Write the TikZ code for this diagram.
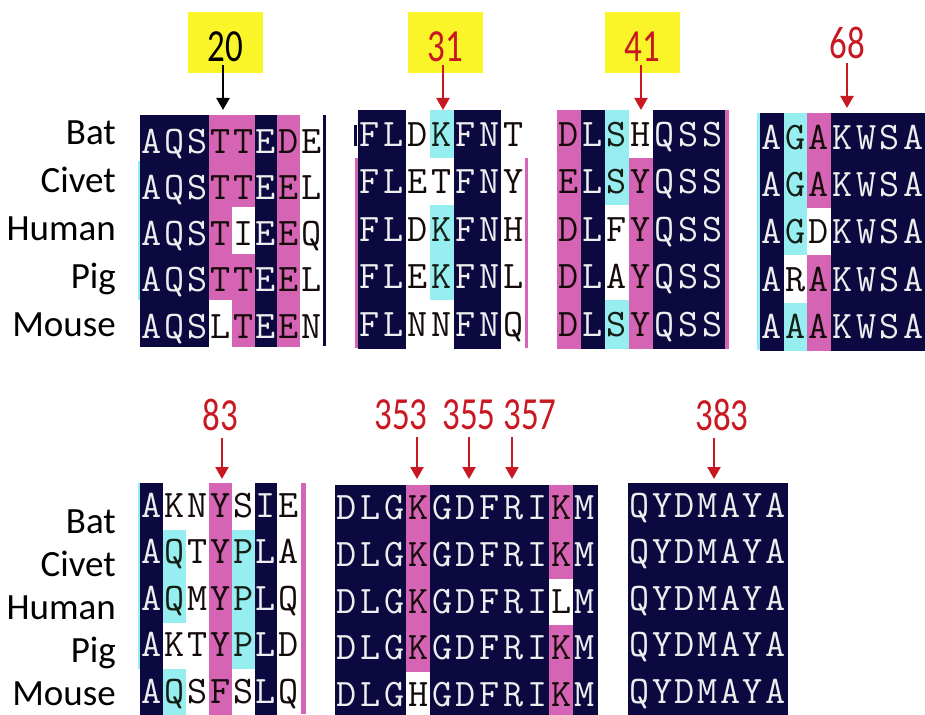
\documentclass[tikz,border=0pt]{standalone}
\usepackage{fontspec}
\setmainfont{Carlito}
\newcommand\seqfont{\ttfamily\addfontfeatures{FakeBold=0.7,FakeStretch=1.05}}
\newfontfamily\numfont[FakeStretch=0.76]{Carlito}
\usetikzlibrary{arrows.meta}
\definecolor{bgn}{RGB}{12,8,64}
\definecolor{bgp}{RGB}{214,100,180}
\definecolor{bgc}{RGB}{150,238,240}
\definecolor{bgw}{RGB}{255,255,255}
\definecolor{fgn}{RGB}{238,238,238}
\definecolor{fgp}{RGB}{20,10,10}
\definecolor{fgc}{RGB}{20,30,20}
\definecolor{fgw}{RGB}{20,10,10}
\definecolor{numred}{RGB}{200,25,35}
\definecolor{hlyellow}{RGB}{250,245,40}
\newcommand\seqrow[8]{%
  \foreach \myL/\myC [count=\myI from 0] in {#8}{%
    \fill[fill=bg\myC] ({#2+\myI*#5},{#3+#4*#6}) rectangle ({#2+(\myI+1)*#5+0.7},{#3+(#4+1)*#6+0.7});
    \node[seq,text=fg\myC,name=#1c\myI] at ({#2+(\myI+0.5)*#5},{#3+(#4+#7)*#6}) {\myL};
  }}
\begin{document}
\begin{tikzpicture}[x=1pt,y=-1pt,
  seq/.style={anchor=base,inner sep=0pt,font=\seqfont\fontsize{39}{40}\selectfont},
  species/.style={anchor=base east,inner sep=0pt,font=\fontsize{37}{40}\selectfont},
  num/.style={inner sep=0pt,font=\numfont\fontsize{46}{48}\selectfont},
  ybox/.style={fill=hlyellow,minimum width=75pt,minimum height=61pt,inner sep=0pt},
  marker/.style={line width=2.2pt,-{Triangle[length=12pt,width=13pt]}},
]
\useasboundingbox (0,0) rectangle (925,714);
\clip (0,0) rectangle (925,714);

% ---------- species labels ----------
\foreach \s [count=\k from 0] in {Bat,Civet,Human,Pig,Mouse}{
  \node[species,name=tl\k] at (116,{144.5+48*\k}) {\s};
  \node[species,name=bl\k] at (116,{533+43*\k}) {\s};
}

% ---------- block 1 ----------
\seqrow{b1r0}{140}{115}{0}{22.9}{46.2}{0.83}{A/n,Q/n,S/n,T/p,T/p,E/n,D/p,E/w}
\seqrow{b1r1}{140}{115}{1}{22.9}{46.2}{0.83}{A/n,Q/n,S/n,T/p,T/p,E/n,E/p,L/w}
\seqrow{b1r2}{140}{115}{2}{22.9}{46.2}{0.83}{A/n,Q/n,S/n,T/p,I/w,E/n,E/p,Q/w}
\seqrow{b1r3}{140}{115}{3}{22.9}{46.2}{0.83}{A/n,Q/n,S/n,T/p,T/p,E/n,E/p,L/w}
\seqrow{b1r4}{140}{115}{4}{22.9}{46.2}{0.83}{A/n,Q/n,S/n,L/w,T/p,E/n,E/p,N/w}
\fill[bgn] (323,115) rectangle (325.5,346.2);
\fill[bgc] (137.5,161) rectangle (140,300);

% ---------- block 2 ----------
\seqrow{b2r0}{358}{110}{0}{23.9}{47.6}{0.76}{F/n,L/n,D/w,K/c,F/n,N/n,T/w}
\seqrow{b2r1}{358}{110}{1}{23.9}{47.6}{0.76}{F/n,L/n,E/w,T/w,F/n,N/n,Y/w}
\seqrow{b2r2}{358}{110}{2}{23.9}{47.6}{0.76}{F/n,L/n,D/w,K/c,F/n,N/n,H/w}
\seqrow{b2r3}{358}{110}{3}{23.9}{47.6}{0.76}{F/n,L/n,E/w,K/c,F/n,N/n,L/w}
\seqrow{b2r4}{358}{110}{4}{23.9}{47.6}{0.76}{F/n,L/n,N/w,N/w,F/n,N/n,Q/w}
\fill[bgp] (355,158) rectangle (357.5,348);
\fill[bgp] (525,158) rectangle (527.5,348);
\fill[bgn] (354,125) rectangle (357,146);

% ---------- block 3 ----------
\seqrow{b3r0}{557}{110}{0}{24}{47.6}{0.76}{D/p,L/n,S/c,H/w,Q/n,S/n,S/n}
\seqrow{b3r1}{557}{110}{1}{24}{47.6}{0.76}{E/p,L/n,S/c,Y/p,Q/n,S/n,S/n}
\seqrow{b3r2}{557}{110}{2}{24}{47.6}{0.76}{D/p,L/n,F/w,Y/p,Q/n,S/n,S/n}
\seqrow{b3r3}{557}{110}{3}{24}{47.6}{0.76}{D/p,L/n,A/w,Y/p,Q/n,S/n,S/n}
\seqrow{b3r4}{557}{110}{4}{24}{47.6}{0.76}{D/p,L/n,S/c,Y/p,Q/n,S/n,S/n}
\fill[bgp] (725,110) rectangle (728.5,348.7);

% ---------- block 4 ----------
\seqrow{b4r0}{760}{113}{0}{23.6}{47.4}{0.76}{A/n,G/c,A/p,K/n,W/n,S/n,A/n}
\seqrow{b4r1}{760}{113}{1}{23.6}{47.4}{0.76}{A/n,G/c,A/p,K/n,W/n,S/n,A/n}
\seqrow{b4r2}{760}{113}{2}{23.6}{47.4}{0.76}{A/n,G/c,D/w,K/n,W/n,S/n,A/n}
\seqrow{b4r3}{760}{113}{3}{23.6}{47.4}{0.76}{A/n,R/w,A/p,K/n,W/n,S/n,A/n}
\seqrow{b4r4}{760}{113}{4}{23.6}{47.4}{0.76}{A/n,A/c,A/p,K/n,W/n,S/n,A/n}
\fill[bgc] (757,113) rectangle (760,350);

% ---------- block 5 ----------
\seqrow{b5r0}{140}{483}{0}{22.9}{46.5}{0.74}{A/n,K/w,N/w,Y/p,S/w,I/n,E/w}
\seqrow{b5r1}{140}{483}{1}{22.9}{46.5}{0.74}{A/n,Q/c,T/w,Y/p,P/c,L/n,A/w}
\seqrow{b5r2}{140}{483}{2}{22.9}{46.5}{0.74}{A/n,Q/c,M/w,Y/p,P/c,L/n,Q/w}
\seqrow{b5r3}{140}{483}{3}{22.9}{46.5}{0.74}{A/n,K/w,T/w,Y/p,P/c,L/n,D/w}
\seqrow{b5r4}{140}{483}{4}{22.9}{46.5}{0.74}{A/n,Q/c,S/w,F/p,S/w,L/n,Q/w}
\fill[bgc] (137.5,483) rectangle (140,669);
\fill[bgp] (301,483) rectangle (306,714);

% ---------- block 6 ----------
\seqrow{b6r0}{335}{485}{0}{23.8}{46.75}{0.74}{D/n,L/n,G/n,K/p,G/n,D/n,F/n,R/n,I/n,K/p,M/n}
\seqrow{b6r1}{335}{485}{1}{23.8}{46.75}{0.74}{D/n,L/n,G/n,K/p,G/n,D/n,F/n,R/n,I/n,K/p,M/n}
\seqrow{b6r2}{335}{485}{2}{23.8}{46.75}{0.74}{D/n,L/n,G/n,K/p,G/n,D/n,F/n,R/n,I/n,L/w,M/n}
\seqrow{b6r3}{335}{485}{3}{23.8}{46.75}{0.74}{D/n,L/n,G/n,K/p,G/n,D/n,F/n,R/n,I/n,K/p,M/n}
\seqrow{b6r4}{335}{485}{4}{23.8}{46.75}{0.74}{D/n,L/n,G/n,H/w,G/n,D/n,F/n,R/n,I/n,K/p,M/n}

% ---------- block 7 ----------
\foreach \r in {0,...,4}{
  \seqrow{b7r\r}{628}{483}{\r}{22.7}{46.5}{0.74}{Q/n,Y/n,D/n,M/n,A/n,Y/n,A/n}
}

% ---------- position markers (top) ----------
\node[ybox] (box20) at (225.5,42.5) {};
\node[ybox] (box31) at (445.5,42.5) {};
\node[ybox] (box41) at (642.5,42.5) {};
\node[num,text=black] (n20) at (225,47) {20};
\node[num,text=numred] (n31) at (445,47) {31};
\node[num,text=numred] (n41) at (642,47) {41};
\node[num,text=numred] (n68) at (847,43) {68};
\coordinate (t20) at (223,110);
\coordinate (t31) at (443,110);
\coordinate (t41) at (641,110);
\coordinate (t68) at (847,108);
\draw[marker,black] ([yshift=8pt]box20.south -| t20) -- (t20);
\draw[marker,numred] ([yshift=8pt]box31.south -| t31) -- (t31);
\draw[marker,numred] ([yshift=8pt]box41.south -| t41) -- (t41);
\draw[marker,numred] ([yshift=-4pt]n68.south -| t68) -- (t68);

% ---------- position markers (bottom) ----------
\node[num,text=numred] (n83) at (220,415) {83};
\node[num,text=numred] (n353) at (401,415) {353};
\node[num,text=numred] (n355) at (469,415) {355};
\node[num,text=numred] (n357) at (530,415) {357};
\node[num,text=numred] (n383) at (722,415) {383};
\coordinate (t83) at (222,479);
\coordinate (t353) at (417,479);
\coordinate (t355) at (469,479);
\coordinate (t357) at (512,479);
\coordinate (t383) at (714,479);
\foreach \m in {83,353,355,357,383}{
  \draw[marker,numred] ([yshift=-7pt]n\m.south -| t\m) -- (t\m);
}
\end{tikzpicture}
\end{document}
